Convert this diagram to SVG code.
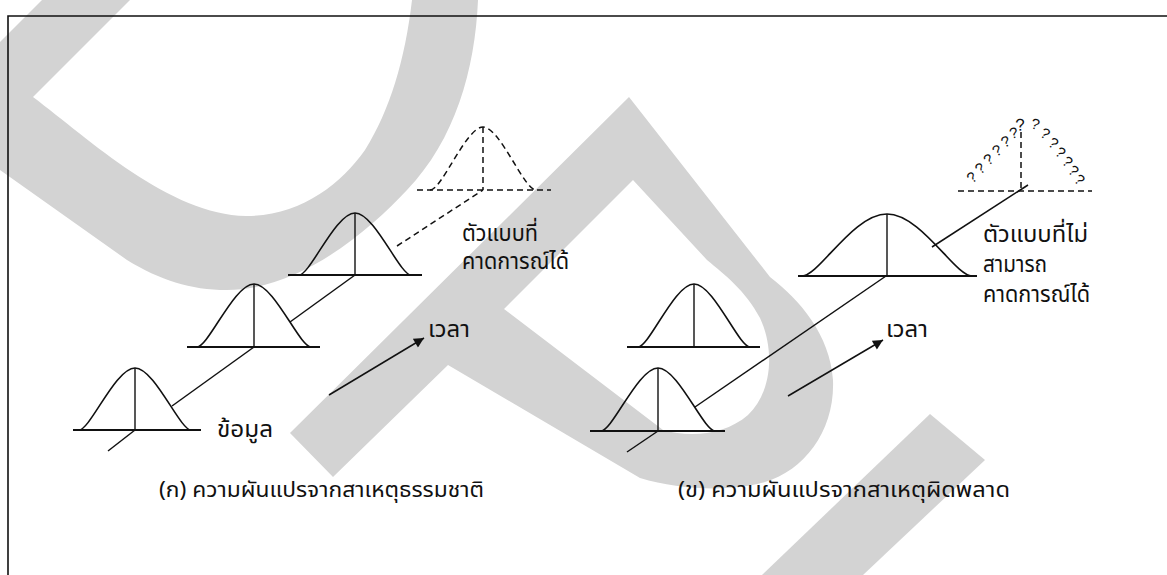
<svg xmlns="http://www.w3.org/2000/svg" width="1167" height="575" viewBox="0 0 1167 575">
<defs>
<style>
.wm{fill:#d3d3d3;stroke:none}
.bell{fill:none;stroke:#111;stroke-width:1.6}
.base{fill:none;stroke:#111;stroke-width:2.2}
.vert{fill:none;stroke:#111;stroke-width:1.4}
.dash{fill:none;stroke:#111;stroke-width:1.5;stroke-dasharray:6 4}
.con{fill:none;stroke:#111;stroke-width:1.5}
.frame{fill:none;stroke:#111;stroke-width:1.6}
.lbl{font-family:"Noto Sans Thai","Noto Sans","DejaVu Sans",sans-serif;font-size:23px;fill:#111}
.cap{font-family:"Noto Sans Thai","Noto Sans","DejaVu Sans",sans-serif;font-size:22px;fill:#111}
.q{font-family:"Liberation Sans",Arial,sans-serif;font-size:15px;fill:#111}
</style>
<marker id="ah" viewBox="0 0 10 10" refX="10" refY="5" markerWidth="17" markerHeight="10" markerUnits="userSpaceOnUse" orient="auto">
<path d="M0,0 L10,5 L0,10 Z" fill="#111"/>
</marker>
</defs>
<rect width="1167" height="575" fill="#fff"/>
<g id="watermark">
<path class="wm" d="M42,0 L130,0 L33,97 C90,140 170,215 246,216 C300,216 340,185 365,150 C390,110 405,60 412,0 L478,0 C475,70 455,140 407,190 C370,230 300,290 227,290 C190,290 160,280 127,260 L0,170 L0,42 Z"/>
<path class="wm" d="M629,97 L770,277 C800,300 830,335 833,380 C835,430 805,470 765,482 C730,492 680,490 640,478 L448,365 L333,477 L290,433 Z M633,180 L504,309 L663,430 C690,438 725,435 748,415 C772,392 775,350 760,318 C745,290 725,275 707,260 Z" fill-rule="evenodd"/>
<path class="wm" d="M930,414 L985,460 L863,575 L762,575 Z"/>
</g>
<g id="frame">
<path class="frame" d="M8,575 L8,16 L1167,16"/>
</g>
<g id="connectors">
<line class="con" x1="135" y1="430" x2="108" y2="451"/>
<line class="con" x1="172" y1="406" x2="254" y2="347"/>
<line class="con" x1="290" y1="322" x2="355" y2="275"/>
<line class="dash" x1="397" y1="246" x2="483" y2="190"/>
<line class="con" x1="329" y1="395" x2="424" y2="338" marker-end="url(#ah)"/>
<line class="con" x1="658" y1="431" x2="627" y2="452"/>
<line class="con" x1="695" y1="407" x2="886" y2="276"/>
<line class="con" x1="932" y1="247" x2="1028" y2="185"/>
<line class="con" x1="788" y1="396" x2="883" y2="340" marker-end="url(#ah)"/>
</g>
<g id="curve1">
<line class="base" x1="73" y1="430" x2="201" y2="430"/>
<path class="bell" d="M79,430 C90.2,430 115.4,368 135,368 C154.6,368 179.8,430 191,430"/>
<line class="vert" x1="135" y1="368" x2="135" y2="430"/>
</g>
<g id="curve2">
<line class="base" x1="187" y1="347" x2="320" y2="347"/>
<path class="bell" d="M197,347 C208.4,347 234,284 254,284 C274,284 299.6,347 311,347"/>
<line class="vert" x1="254" y1="284" x2="254" y2="347"/>
</g>
<g id="curve3">
<line class="base" x1="288" y1="275" x2="422" y2="275"/>
<path class="bell" d="M299,275 C310.2,275 335.4,213 355,213 C374.6,213 399.8,275 411,275"/>
<line class="vert" x1="355" y1="213" x2="355" y2="275"/>
</g>
<g id="curve-predicted">
<line class="dash" x1="417" y1="190" x2="551" y2="190"/>
<path class="dash" d="M430,190 C442,190 466,127 483,127 C500,127 524,190 536,190"/>
<line class="dash" x1="483" y1="127" x2="483" y2="190"/>
</g>
<g id="label-data"><text class="lbl" x="217" y="437" textLength="56" lengthAdjust="spacingAndGlyphs">ข้อมูล</text></g>
<g id="label-model-left">
<text class="lbl" x="462" y="241" textLength="76" lengthAdjust="spacingAndGlyphs">ตัวแบบที่</text>
<text class="lbl" x="462" y="269" textLength="107" lengthAdjust="spacingAndGlyphs">คาดการณ์ได้</text>
</g>
<g id="label-time-left"><text class="lbl" x="428" y="337" textLength="42" lengthAdjust="spacingAndGlyphs">เวลา</text></g>
<g id="caption-left"><text class="cap" x="159" y="497" textLength="325" lengthAdjust="spacingAndGlyphs">(ก) ความผันแปรจากสาเหตุธรรมชาติ</text></g>
<g id="curveA">
<line class="base" x1="627" y1="347" x2="760" y2="347"/>
<path class="bell" d="M638,347 C649.2,347 674.4,284 694,284 C713.6,284 738.8,347 750,347"/>
<line class="vert" x1="694" y1="284" x2="694" y2="347"/>
</g>
<g id="curveB">
<line class="base" x1="590" y1="431" x2="725" y2="431"/>
<path class="bell" d="M601,431 C612.4,431 638,368 658,368 C678,368 703.6,431 715,431"/>
<line class="vert" x1="658" y1="368" x2="658" y2="431"/>
</g>
<g id="curveBig">
<line class="base" x1="798" y1="276" x2="977" y2="276"/>
<path class="bell" d="M802,276 C819,276 853,214 887,214 C921,214 955,276 972,276"/>
<line class="vert" x1="887" y1="214" x2="887" y2="276"/>
</g>
<g id="curve-unknown">
<line class="dash" x1="958" y1="191" x2="1092" y2="191"/>
<line class="dash" x1="1021" y1="132" x2="1021" y2="188"/>
<text class="q" transform="translate(972,184) rotate(-40)">?</text>
<text class="q" transform="translate(980,175) rotate(-38)">?</text>
<text class="q" transform="translate(988,166) rotate(-35)">?</text>
<text class="q" transform="translate(996,157) rotate(-30)">?</text>
<text class="q" transform="translate(1004,148) rotate(-25)">?</text>
<text class="q" transform="translate(1011,139) rotate(-15)">?</text>
<text class="q" style="font-size:17px" transform="translate(1016,131) rotate(-5)">?</text>
<text class="q" transform="translate(1030,128) rotate(15)">?</text>
<text class="q" transform="translate(1039,136) rotate(30)">?</text>
<text class="q" transform="translate(1047,145) rotate(35)">?</text>
<text class="q" transform="translate(1054,154) rotate(38)">?</text>
<text class="q" transform="translate(1061,163) rotate(40)">?</text>
<text class="q" transform="translate(1067,172) rotate(40)">?</text>
<text class="q" transform="translate(1073,181) rotate(40)">?</text>
</g>
<g id="label-model-right">
<text class="lbl" x="983" y="242" textLength="105" lengthAdjust="spacingAndGlyphs">ตัวแบบที่ไม่</text>
<text class="lbl" x="983" y="272" textLength="64" lengthAdjust="spacingAndGlyphs">สามารถ</text>
<text class="lbl" x="983" y="302" textLength="107" lengthAdjust="spacingAndGlyphs">คาดการณ์ได้</text>
</g>
<g id="label-time-right"><text class="lbl" x="886" y="337" textLength="42" lengthAdjust="spacingAndGlyphs">เวลา</text></g>
<g id="caption-right"><text class="cap" x="678" y="497" textLength="332" lengthAdjust="spacingAndGlyphs">(ข) ความผันแปรจากสาเหตุผิดพลาด</text></g>
</svg>
